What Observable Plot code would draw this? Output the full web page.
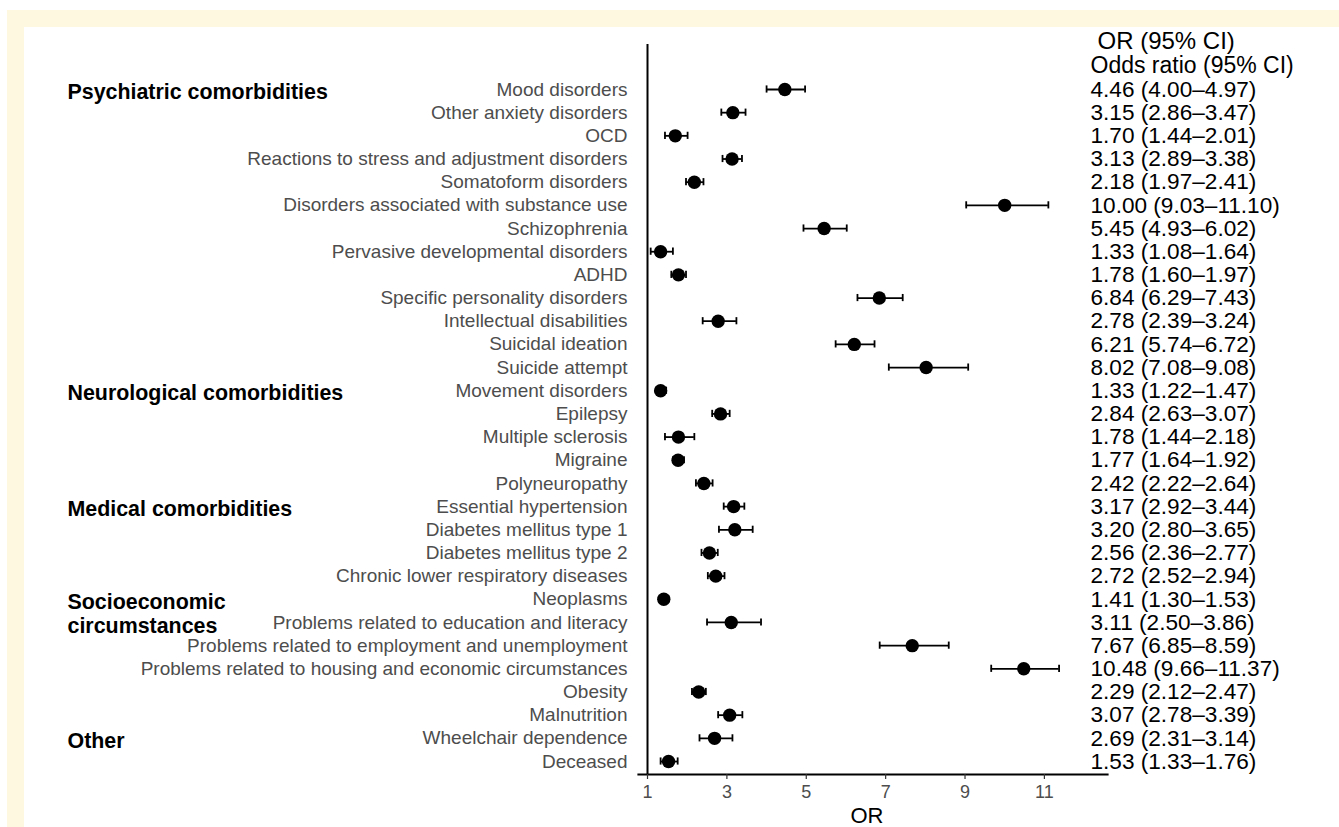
<!DOCTYPE html>
<html><head><meta charset="utf-8">
<script src="https://cdn.jsdelivr.net/npm/d3@7"></script>
<script src="https://cdn.jsdelivr.net/npm/@observablehq/plot@0.6"></script>
<style>
html,body{margin:0;padding:0;background:#fff;overflow:hidden;}
#frame{position:absolute;left:7px;top:10px;background:#fef8e0;padding:17px 0 0 17px;width:1339px;height:827px;}
#chart{background:#fff;width:1315px;height:800px;}
#chart svg{display:block;}
</style></head><body><div id="frame"><div id="chart"></div></div>
<script>
const labels = [
  "Mood disorders","Other anxiety disorders","OCD","Reactions to stress and adjustment disorders",
  "Somatoform disorders","Disorders associated with substance use","Schizophrenia",
  "Pervasive developmental disorders","ADHD","Specific personality disorders",
  "Intellectual disabilities","Suicidal ideation","Suicide attempt","Movement disorders",
  "Epilepsy","Multiple sclerosis","Migraine","Polyneuropathy","Essential hypertension",
  "Diabetes mellitus type 1","Diabetes mellitus type 2","Chronic lower respiratory diseases",
  "Neoplasms","Problems related to education and literacy",
  "Problems related to employment and unemployment",
  "Problems related to housing and economic circumstances","Obesity","Malnutrition",
  "Wheelchair dependence","Deceased"
];
const oddsRatio = [4.46,3.15,1.70,3.13,2.18,10.00,5.45,1.33,1.78,6.84,2.78,6.21,8.02,1.33,2.84,1.78,1.77,2.42,3.17,3.20,2.56,2.72,1.41,3.11,7.67,10.48,2.29,3.07,2.69,1.53];
const lower = [4.00,2.86,1.44,2.89,1.97,9.03,4.93,1.08,1.60,6.29,2.39,5.74,7.08,1.22,2.63,1.44,1.64,2.22,2.92,2.80,2.36,2.52,1.30,2.50,6.85,9.66,2.12,2.78,2.31,1.33];
const upper = [4.97,3.47,2.01,3.38,2.41,11.10,6.02,1.64,1.97,7.43,3.24,6.72,9.08,1.47,3.07,2.18,1.92,2.64,3.44,3.65,2.77,2.94,1.53,3.86,8.59,11.37,2.47,3.39,3.14,1.76];
const groupNames = ["Psychiatric comorbidities","Neurological comorbidities","Medical comorbidities","Socioeconomic\ncircumstances","Other"];
const groupRows = ["Mood disorders","Movement disorders","Essential hypertension","Neoplasms","Wheelchair dependence"];
const xTicks = [1,3,5,7,9,11];
const headerTop = "OR (95% CI)";
const headerSub = "Odds ratio (95% CI)";
const xLabel = "OR";

const rows = labels.map((label, i) => ({
  label, or: oddsRatio[i], lo: lower[i], hi: upper[i],
  txt: `${oddsRatio[i].toFixed(2)} (${lower[i].toFixed(2)}–${upper[i].toFixed(2)})`
}));
const groups = groupNames.map((name, i) => ({name, row: groupRows[i]}));

const chart = Plot.plot({
  width: 1315, height: 800,
  marginLeft: 614, marginRight: 232, marginTop: 17, marginBottom: 53,
  style: {fontFamily: "'Liberation Sans', Arial, Helvetica, sans-serif", background: "white", overflow: "visible"},
  x: {domain: [0.773, 12.59]},
  y: {type: "band", domain: labels, padding: 0, round: false, insetTop: 33.4, insetBottom: 1.4},
  marks: [
    Plot.ruleX([1], {stroke: "black", strokeWidth: 2}),
    Plot.frame({anchor: "bottom", stroke: "black", strokeWidth: 2.2}),
    Plot.axisX({ticks: xTicks, tickSize: 5, tickPadding: 6, fontSize: 18, fill: "#4d4d4d", stroke: "#333", strokeWidth: 1.2, label: null}),
    Plot.axisY({tickSize: 0, tickPadding: 11, fontSize: 19, fill: "#4d4d4d", label: null}),
    Plot.text([xLabel], {frameAnchor: "bottom", dx: -6, dy: 41, lineAnchor: "middle", fontSize: 22, fill: "black"}),
    Plot.ruleY(rows, {y: "label", x1: "lo", x2: "hi", stroke: "black", strokeWidth: 1.8}),
    Plot.tickX(rows, {x: "lo", y: "label", stroke: "black", strokeWidth: 1.8, insetTop: 8, insetBottom: 8}),
    Plot.tickX(rows, {x: "hi", y: "label", stroke: "black", strokeWidth: 1.8, insetTop: 8, insetBottom: 8}),
    Plot.dot(rows, {x: "or", y: "label", r: 6.7, fill: "black", stroke: "none"}),
    Plot.text(rows, {y: "label", text: "txt", frameAnchor: "right", dx: -17, textAnchor: "start", fontSize: 22.6, fill: "black"}),
    Plot.text([headerTop], {frameAnchor: "top-right", dx: -10, dy: -3, textAnchor: "start", lineAnchor: "middle", fontSize: 24, fill: "black"}),
    Plot.text([headerSub], {frameAnchor: "top-right", dx: -17, dy: 21.5, textAnchor: "start", lineAnchor: "middle", fontSize: 23, fill: "black"}),
    Plot.text(groups, {y: "row", text: "name", frameAnchor: "left", dx: -571, dy: -7.5, textAnchor: "start", lineAnchor: "top", lineHeight: 1.12, fontSize: 21.4, fontWeight: "bold", fill: "black"})
  ]
});
document.getElementById("chart").appendChild(chart);
</script>
</body></html>
